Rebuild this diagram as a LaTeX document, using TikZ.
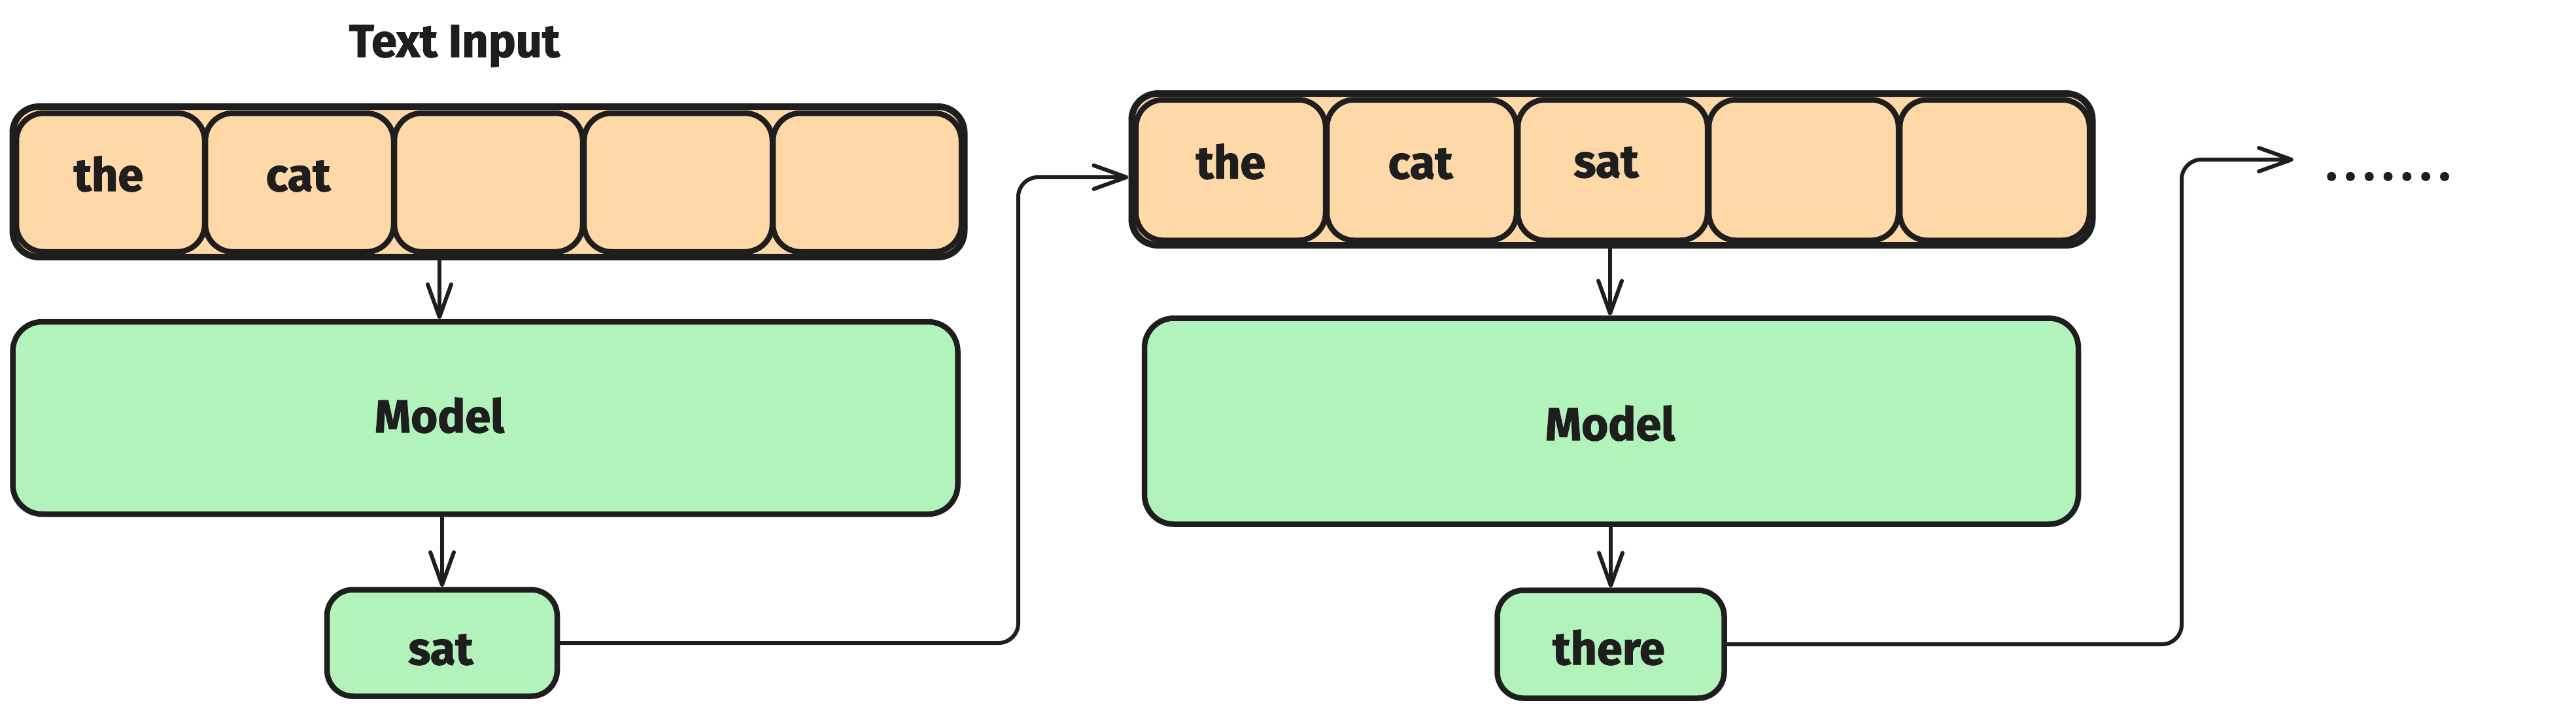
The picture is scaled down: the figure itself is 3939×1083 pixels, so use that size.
\documentclass[tikz,border=0pt]{standalone}
\usepackage{fontspec}
\setmainfont{Fira Sans}[BoldFeatures={FakeBold=1.6}]
\usetikzlibrary{arrows.meta}
\definecolor{ink}{HTML}{1E1E1E}
\definecolor{peach}{HTML}{FFD8A8}
\definecolor{mint}{HTML}{B2F2BB}
\begin{document}
\begin{tikzpicture}[x=0.1mm,y=-0.1mm,
  box/.style={draw=ink, line width=0.85mm, rounded corners=4.2mm, inner sep=0pt},
  outerbox/.style={draw=ink, line width=1.0mm, fill=peach, rounded corners=4mm, inner sep=0pt},
  cellA/.style={box, fill=peach, minimum width=28.8mm, minimum height=21.2mm},
  cellB/.style={box, fill=peach, minimum width=29.0mm, minimum height=21.5mm},
  modelbox/.style={box, fill=mint, rounded corners=4.5mm},
  outbox/.style={box, fill=mint, rounded corners=4mm},
  lbl/.style={font=\fontsize{20}{24}\selectfont\bfseries, text=ink, inner sep=0pt, anchor=base},
  conn/.style={draw=ink, line width=0.6mm, line cap=round, line join=round, rounded corners=3mm,
    -{Straight Barb[length=5mm,width=3.6mm,round]}},
]
\useasboundingbox (0,0) rectangle (3939,1083);

% title
\node[lbl] (title) at (695,87) {Text Input};

% first token array
\node[outerbox, minimum width=145.5mm, minimum height=23mm] (arrA) at (747,278) {};
\node[cellA] (a1) at (169,279) {};
\node[cellA] (a2) at (458,279) {};
\node[cellA] (a3) at (747,279) {};
\node[cellA] (a4) at (1037,279) {};
\node[cellA] (a5) at (1326,279) {};
\node[lbl] (a1t) at (166,292) {the};
\node[lbl] (a2t) at (456,292) {cat};

% first model
\node[modelbox, minimum width=144.5mm, minimum height=29.4mm] (mA) at (742,639) {};
\node[lbl] (mAt) at (672,661) {Model};

% first output
\node[outbox, minimum width=35.2mm, minimum height=16.3mm] (oA) at (676,983) {};
\node[lbl] (oAt) at (674,1016) {sat};

% second token array
\node[outerbox, minimum width=146.9mm, minimum height=23.2mm] (arrB) at (2465,259) {};
\node[cellB] (b1) at (1882,260) {};
\node[cellB] (b2) at (2174,260) {};
\node[cellB] (b3) at (2466,260) {};
\node[cellB] (b4) at (2758,260) {};
\node[cellB] (b5) at (3050,260) {};
\node[lbl] (b1t) at (1882,273) {the};
\node[lbl] (b2t) at (2172,273) {cat};
\node[lbl] (b3t) at (2456,271) {sat};

% second model
\node[modelbox, minimum width=142.8mm, minimum height=31.5mm] (mB) at (2464,644) {};
\node[lbl] (mBt) at (2462,673) {Model};

% second output
\node[outbox, minimum width=34.7mm, minimum height=16.5mm] (oB) at (2463,985) {};
\node[lbl] (oBt) at (2460,1016) {there};

% continuation
\coordinate (turnA) at (1557,0);
\coordinate (inB) at ([yshift=-3.4pt]arrB.west);
\coordinate (turnB) at (3336,0);
\coordinate (endB) at (3507,244);
\node[lbl, anchor=base west] (dots) at (3556,275) {\addfontfeatures{LetterSpace=17}.......};

% connectors
\draw[conn] (arrA.south -| mAt.base) -- (mA.north -| mAt.base);
\draw[conn] (mA.south -| oA.north) -- (oA.north);
\draw[conn] (oA.east) -| (turnA |- inB) -- (inB);
\draw[conn] (arrB.south -| mBt.base) -- (mB.north -| mBt.base);
\draw[conn] (mB.south -| oB.north) -- (oB.north);
\draw[conn] (oB.east) -| (turnB |- endB) -- (endB);
\end{tikzpicture}
\end{document}
